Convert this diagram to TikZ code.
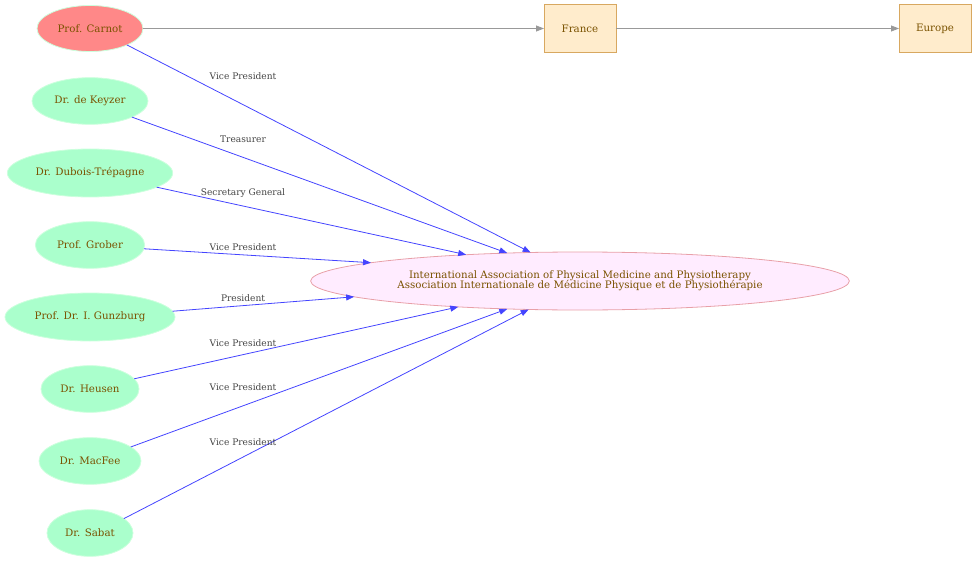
\documentclass[tikz,border=0pt]{standalone}
\usepackage{fontspec}
\setmainfont{DejaVu Serif}
\usetikzlibrary{arrows.meta,shapes.geometric}
\definecolor{txtc}{RGB}{122,82,0}
\definecolor{lblc}{RGB}{68,68,68}
\definecolor{greenfill}{RGB}{170,255,204}
\definecolor{greenline}{RGB}{204,255,221}
\definecolor{redfill}{RGB}{255,136,136}
\definecolor{pinkfill}{RGB}{255,236,255}
\definecolor{pinkline}{RGB}{232,160,168}
\definecolor{boxfill}{RGB}{255,236,204}
\definecolor{boxline}{RGB}{216,168,96}
\definecolor{blueedge}{RGB}{68,68,255}
\definecolor{grayedge}{RGB}{153,153,153}
\tikzset{
  person/.style={ellipse, draw=greenline, fill=greenfill, line width=0.6pt, inner sep=0pt, outer sep=0pt,
    text=txtc, font=\fontsize{7.7}{9}\selectfont},
  place/.style={rectangle, draw=boxline, fill=boxfill, line width=0.6pt, inner sep=0pt, outer sep=0pt,
    minimum width=54pt, minimum height=36pt, text=txtc, font=\fontsize{7.7}{9}\selectfont},
  assoc/.style={ellipse, draw=pinkline, fill=pinkfill, line width=0.6pt, inner sep=0pt, outer sep=0pt,
    minimum width=404pt, minimum height=43.5pt, text=txtc, align=center, font=\fontsize{7.7}{9}\selectfont},
  role/.style={text=lblc, inner sep=0pt, font=\fontsize{6.8}{8}\selectfont},
  roleedge/.style={draw=blueedge, line width=0.6pt, -{Triangle[length=6pt,width=4.5pt]}},
  geoedge/.style={draw=grayedge, line width=0.6pt, -{Triangle[length=6pt,width=4.5pt]}}
}
\begin{document}
\begin{tikzpicture}[x=0.75pt,y=-0.75pt]
\useasboundingbox (0,0) rectangle (977,563);
% nodes
\node[person, fill=redfill, minimum width=79.5pt, minimum height=34.5pt] (carnot) at (90,28.5) {Prof. Carnot};
\node[person, minimum width=87pt, minimum height=35pt] (keyzer) at (90,101) {Dr. de Keyzer};
\node[person, minimum width=124pt, minimum height=36pt] (dubois) at (90,173) {Dr. Dubois-Trépagne};
\node[person, minimum width=82pt, minimum height=35pt] (grober) at (90,245) {Prof. Grober};
\node[person, minimum width=127.5pt, minimum height=36pt] (gunzburg) at (90,317) {Prof. Dr. I. Gunzburg};
\node[person, minimum width=73.5pt, minimum height=35pt] (heusen) at (90,389) {Dr. Heusen};
\node[person, minimum width=76.5pt, minimum height=35pt] (macfee) at (90,461) {Dr. MacFee};
\node[person, minimum width=64.5pt, minimum height=35pt] (sabat) at (90,533) {Dr. Sabat};
\node[assoc] (iaf) at (580,281) {International Association of Physical Medicine and Physiotherapy\\[-1.5pt]Association Internationale de Médicine Physique et de Physiothérapie};
\node[place] (france) at (580,28.5) {France};
\node[place] (europe) at (935,28.5) {Europe};
% edges
\draw[geoedge] (carnot.east) -- (france.west);
\draw[geoedge] (france.east) -- (europe.west);
\draw[roleedge] (carnot.-24) -- (iaf.150.75);
\draw[roleedge] (keyzer.-21) -- (iaf.159.4);
\draw[roleedge] (dubois.-12.9) -- (iaf.167.7);
\draw[roleedge] (grober.-4.2) -- (iaf.175.6);
\draw[roleedge] (gunzburg.4.4) -- (iaf.184.4);
\draw[roleedge] (heusen.13.4) -- (iaf.192.9);
\draw[roleedge] (macfee.19.4) -- (iaf.201.3);
\draw[roleedge] (sabat.23.4) -- (iaf.209.25);
% labels
\node[role] (l1) at (243,76) {Vice President};
\node[role] (l2) at (243,139) {Treasurer};
\node[role] (l3) at (243,193) {Secretary General};
\node[role] (l4) at (243,247) {Vice President};
\node[role] (l5) at (243,298) {President};
\node[role] (l6) at (243,343) {Vice President};
\node[role] (l7) at (243,387) {Vice President};
\node[role] (l8) at (243,442) {Vice President};
\end{tikzpicture}
\end{document}
